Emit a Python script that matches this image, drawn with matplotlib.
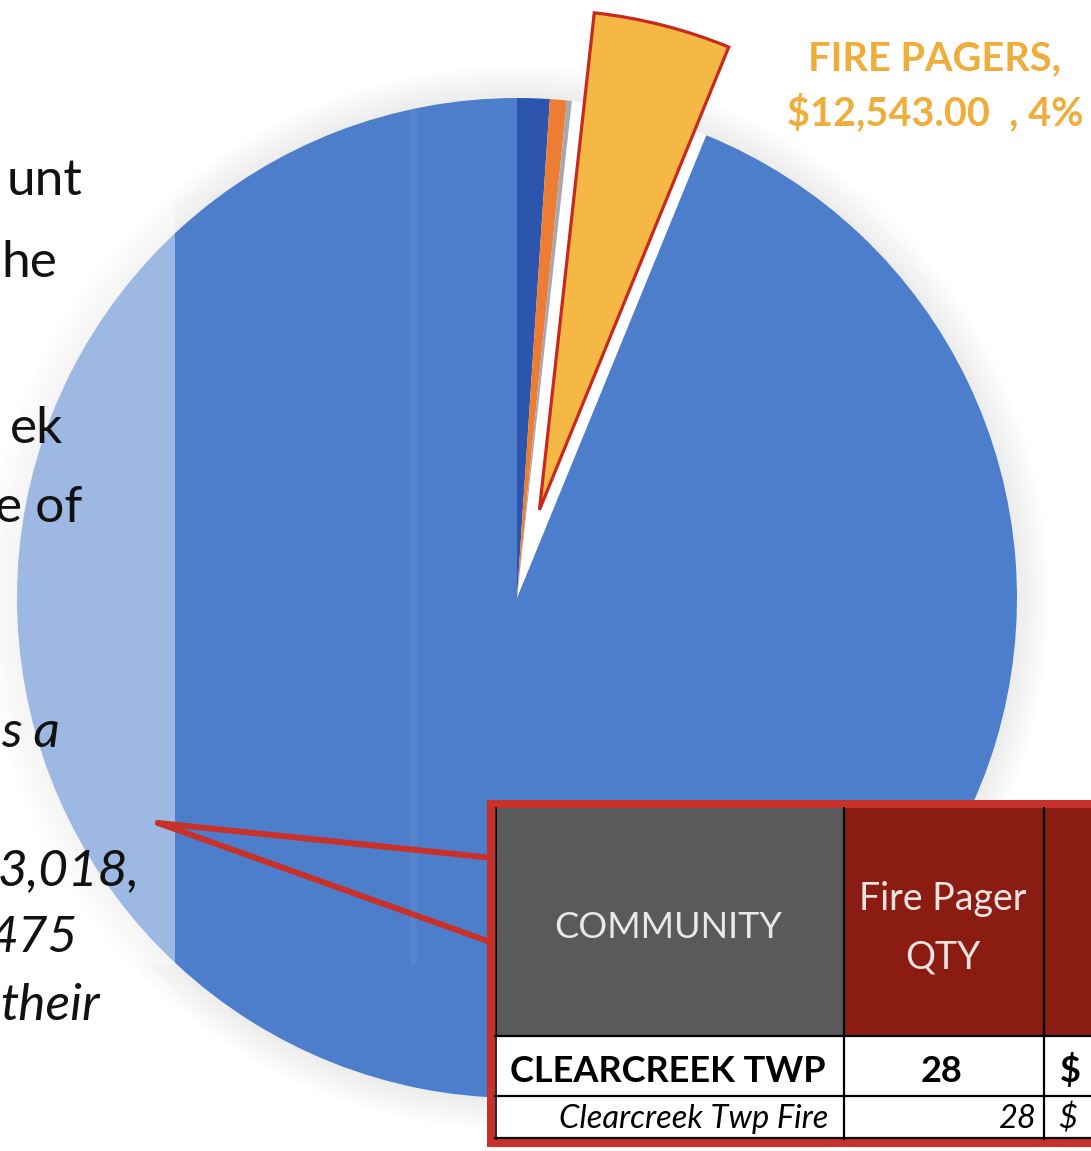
import matplotlib
matplotlib.use("Agg")
import matplotlib.pyplot as plt
from matplotlib.patches import Rectangle, Wedge

# ---------------- data ----------------
slice_names = ["Category A", "Category B", "Category C", "FIRE PAGERS", "Category E"]
slice_values = [2970, 1530, 450, 12543, 265525]
slice_colors = ["#2D55AD", "#EC7D33", "#A7A7B0", "#F5B845", "#4D7ECB"]
fire_label = ["FIRE PAGERS,", "$12,543.00  , 4%"]

left_text = ["unt", "he", "ek", "e of", "s a", "3,018,", "475", "their"]
left_italic = [False, False, False, False, True, True, True, True]

table_header = ["COMMUNITY", "Fire Pager", "QTY"]
table_row1 = ["CLEARCREEK TWP", "28", "$"]
table_row2 = ["Clearcreek Twp Fire", "28", "$"]

FONT = ["Lato", "DejaVu Sans"]
plt.rcParams["font.family"] = FONT

W, H = 1091, 1151
fig = plt.figure(figsize=(W / 100, H / 100), dpi=100)
ax = fig.add_axes([0, 0, 1, 1])

cx, cy, R = 517, 598, 500
explode = [0, 0, 0, 91, 0]

# soft shadow ring
for k in range(16):
    ax.add_patch(Wedge((cx, cy), R + (k + 1) * 2, 0, 360, width=2,
                       facecolor="0.45", edgecolor="none",
                       alpha=0.13 * (1 - k / 16), zorder=1))

wedges, _ = ax.pie(slice_values, colors=slice_colors, startangle=-90,
                   counterclock=True, center=(cx, cy), radius=R,
                   explode=explode, wedgeprops=dict(linewidth=0))
for w in wedges:
    w.set_zorder(2)
yw = wedges[3]
yw.set_edgecolor("#C8281E")
yw.set_linewidth(2.3)
yw.set_joinstyle("miter")

ax.set_xlim(0, W)
ax.set_ylim(H, 0)
ax.set_aspect("equal")
ax.axis("off")

# semi-transparent text box on the left
ax.add_patch(Rectangle((0, 0), 175, 965, facecolor="white", alpha=0.45,
                       edgecolor="none", zorder=3))
ax.add_patch(Rectangle((410, 0), 7, 965, facecolor="white", alpha=0.05,
                       edgecolor="none", zorder=3))

right_x = [82, 57, 63, 82, 60, 140, 78, 100]
base_y = [195, 277, 443, 522, 747, 885, 952, 1020]
for t, it, x, y in zip(left_text, left_italic, right_x, base_y):
    ax.text(x, y, t, ha="right", va="baseline", fontsize=37,
            style="italic" if it else "normal", color="#111111", zorder=5)

# fire pagers label
ax.text(934, 70, fire_label[0], ha="center", va="baseline", fontsize=28.5,
        fontweight="bold", color="#EFAE3C", zorder=5)
ax.text(935, 125, fire_label[1], ha="center", va="baseline", fontsize=28.5,
        fontweight="bold", color="#EFAE3C", zorder=5)

# callout lines
red = "#C8302A"
ax.plot([158, 493], [823, 858], color=red, lw=4.3, solid_capstyle="round", zorder=6)
ax.plot([158, 493], [823, 943], color=red, lw=4.3, solid_capstyle="round", zorder=6)

# table
ax.add_patch(Rectangle((487, 800), 700, 347, facecolor=red, edgecolor="none", zorder=7))
ax.add_patch(Rectangle((495, 808), 700, 331, facecolor="white", edgecolor="none", zorder=7))
ax.add_patch(Rectangle((496, 808), 347, 228, facecolor="#5A5A5C", edgecolor="none", zorder=8))
ax.add_patch(Rectangle((844, 808), 199, 228, facecolor="#8A1C12", edgecolor="none", zorder=8))
ax.add_patch(Rectangle((1044, 808), 200, 228, facecolor="#8A1C12", edgecolor="none", zorder=8))
for x in [843.5, 1043.5]:
    ax.plot([x, x], [808, 1139], color="black", lw=1.6, zorder=9)
for y in [1036, 1096, 1138]:
    ax.plot([495, 1100], [y, y], color="black", lw=1.6, zorder=9)
ax.plot([495.5, 495.5], [808, 1139], color="black", lw=1.2, zorder=9)

ax.text(668, 938, table_header[0], ha="center", va="baseline", fontsize=26,
        color="#E8E8E8", zorder=10)
ax.text(943, 910, table_header[1], ha="center", va="baseline", fontsize=27,
        color="#F2E2E0", zorder=10)
ax.text(943, 968, table_header[2], ha="center", va="baseline", fontsize=27,
        color="#F2E2E0", zorder=10)

ax.text(668, 1082, table_row1[0], ha="center", va="baseline", fontsize=26,
        fontweight="bold", color="black", zorder=10)
ax.text(942, 1082, table_row1[1], ha="center", va="baseline", fontsize=26,
        fontweight="bold", color="black", zorder=10)
ax.text(1060, 1082, table_row1[2], ha="left", va="baseline", fontsize=26,
        fontweight="bold", color="black", zorder=10)

ax.text(828, 1128, table_row2[0], ha="right", va="baseline", fontsize=23.5,
        style="italic", color="black", zorder=10)
ax.text(1036, 1128, table_row2[1], ha="right", va="baseline", fontsize=23.5,
        style="italic", color="black", zorder=10)
ax.text(1058, 1128, table_row2[2], ha="left", va="baseline", fontsize=23.5,
        style="italic", color="black", zorder=10)

fig.savefig("out.png", dpi=100, facecolor="white")
